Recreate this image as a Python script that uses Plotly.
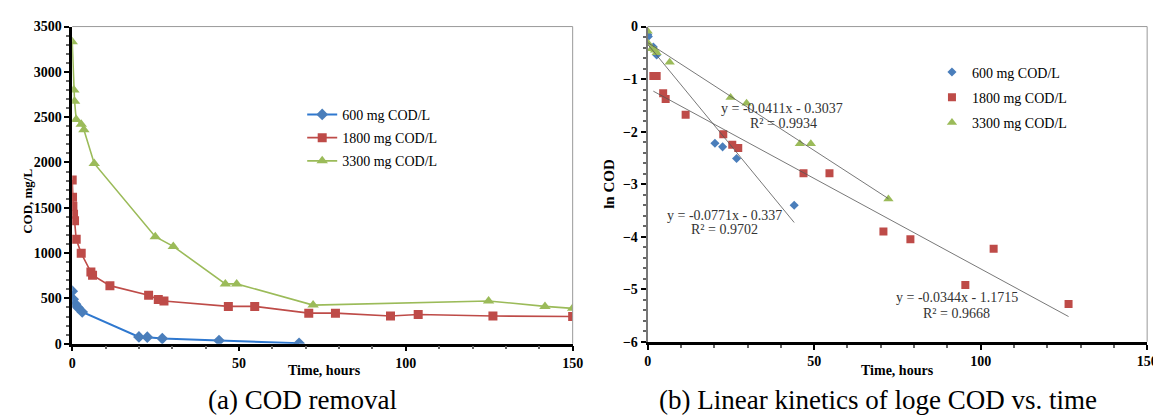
import plotly.graph_objects as go

# ---------------- data: (a) COD removal ----------------
t600 = [0, 0.3, 1, 1.7, 3, 20, 22.5, 27, 44, 68]
c600 = [580, 490, 435, 400, 350, 75, 72, 57, 35, 5]

t1800 = [0, 0.1, 0.2, 0.4, 0.7, 1.2, 2.7, 5.6, 6.1, 11.3, 22.9, 25.8, 27.5, 46.8, 54.7, 70.9, 78.9, 95.4, 103.7, 126.1, 150]
c1800 = [1808, 1617, 1518, 1429, 1358, 1152, 997, 790, 755, 641, 535, 489, 471, 412, 412, 337, 337, 305, 322, 305, 300]

t3300 = [0, 0.5, 0.7, 1.2, 2.7, 3.5, 6.6, 24.9, 30.3, 45.9, 49.3, 72.2, 124.8, 141.7, 150]
c3300 = [3333, 2801, 2677, 2475, 2422, 2362, 1989, 1181, 1074, 660, 660, 426, 472, 412, 390]

# ---------------- data: (b) ln COD vs time ----------------
lt600 = [0, 0.2, 1.7, 2.7, 20.2, 22.5, 26.7, 44]
ln600 = [-0.15, -0.19, -0.39, -0.54, -2.22, -2.29, -2.51, -3.40]

lt1800 = [1.7, 2.7, 4.65, 5.4, 11.4, 22.7, 25.4, 27.2, 46.8, 54.6, 70.8, 78.9, 95.4, 103.9, 126.4]
ln1800 = [-0.94, -0.94, -1.27, -1.38, -1.68, -2.05, -2.25, -2.31, -2.79, -2.79, -3.90, -4.05, -4.92, -4.23, -5.28]

lt3300 = [0, 0.2, 1.2, 2.2, 2.7, 6.6, 24.9, 29.7, 45.7, 49, 72.3]
ln3300 = [-0.09, -0.32, -0.42, -0.45, -0.50, -0.68, -1.35, -1.46, -2.23, -2.23, -3.28]

# linear fits (slope, intercept, x range)
fit600 = (-0.0771, -0.337, 0, 44)
fit1800 = (-0.0344, -1.1715, 1.7, 126.4)
fit3300 = (-0.0411, -0.3037, 0, 72.3)

labels = ["600 mg COD/L", "1800 mg COD/L", "3300 mg COD/L"]
xticks = [0, 50, 100, 150]

BLUE_L = "#2F78CF"
BLUE_M = "#4A7EBB"
RED = "#BE4B48"
GREEN = "#9BBB59"
SERIF = "Liberation Serif"

fig = go.Figure()

# ---- left panel ----
specs = [(t600, c600, BLUE_L, BLUE_M, "diamond", 9), (t1800, c1800, RED, RED, "square", 9),
         (t3300, c3300, GREEN, GREEN, "triangle-up", 10)]
for i, ((x, y, lc, mc, sym, sz), name) in enumerate(zip(specs, labels)):
    fig.add_trace(go.Scatter(x=x, y=y, mode="lines+markers", name=name,
                             line=dict(color=lc, width=2 if lc == BLUE_L else 1.6),
                             marker=dict(symbol=sym, size=sz, color=mc),
                             legendgroup="a%d" % i,
                             xaxis="x", yaxis="y", legend="legend"))

# ---- right panel ----
rspecs = [(lt600, ln600, BLUE_M, "diamond", 7), (lt1800, ln1800, RED, "square", 8),
          (lt3300, ln3300, GREEN, "triangle-up", 9)]
for i, ((x, y, mc, sym, sz), name) in enumerate(zip(rspecs, labels)):
    fig.add_trace(go.Scatter(x=x, y=y, mode="markers", name=name,
                             marker=dict(symbol=sym, size=sz, color=mc),
                             legendgroup="b%d" % i,
                             xaxis="x2", yaxis="y2", legend="legend2"))

for m, b, x0, x1 in (fit600, fit1800, fit3300):
    fig.add_trace(go.Scatter(x=[x0, x1], y=[m * x0 + b, m * x1 + b], mode="lines",
                             line=dict(color="#555555", width=0.8), showlegend=False,
                             hoverinfo="skip", xaxis="x2", yaxis="y2"))

tickfont = dict(family=SERIF, size=14, color="black", weight="bold")
common_x = dict(range=[0, 150], tickvals=xticks, ticks="outside", ticklen=5, tickwidth=1.5,
                tickcolor="black", showline=True, linecolor="black", linewidth=2.5,
                showgrid=False, zeroline=False, tickfont=tickfont, mirror=False,
                minor=dict(dtick=10, ticks="outside", ticklen=3, tickcolor="#666666"))

fig.update_layout(
    width=1161, height=416, margin=dict(l=0, r=0, t=0, b=0),
    paper_bgcolor="white", plot_bgcolor="white",
    font=dict(family=SERIF, color="black"),
    xaxis=dict(domain=[61 / 1161, 568 / 1161], anchor="y", **common_x),
    yaxis=dict(domain=[1 - 341 / 416, 1 - 12 / 416], anchor="x", range=[0, 3500], dtick=500,
               ticks="outside", ticklen=5, tickwidth=1.5, tickcolor="black",
               showline=True, linecolor="black", linewidth=2.5, showgrid=False, zeroline=False,
               tickfont=tickfont, minor=dict(dtick=100, ticks="outside", ticklen=3, tickcolor="#666666")),
    xaxis2=dict(domain=[644 / 1161, 1150 / 1161], anchor="y2", **common_x),
    yaxis2=dict(domain=[1 - 339 / 416, 1 - 12 / 416], anchor="x2", range=[-6, 0], dtick=1,
                ticks="outside", ticklen=5, tickwidth=1.5, tickcolor="black",
                showline=True, linecolor="#777777", linewidth=2, showgrid=False, zeroline=False,
                tickfont=tickfont, minor=dict(dtick=0.2, ticks="outside", ticklen=3, tickcolor="#666666")),
    legend=dict(x=294 / 1161, y=1 - 87 / 416, xanchor="left", yanchor="top",
                bgcolor="rgba(0,0,0,0)", font=dict(family=SERIF, size=14), itemwidth=30,
                traceorder="grouped", tracegroupgap=2),
    legend2=dict(x=932 / 1161, y=1 - 43 / 416, xanchor="left", yanchor="top",
                 bgcolor="rgba(0,0,0,0)", font=dict(family=SERIF, size=14), itemwidth=30,
                 traceorder="grouped", tracegroupgap=4),
    showlegend=True,
)

# plot frame (gray top/right borders)
for xr, yr in (("x", "y"), ("x2", "y2")):
    fig.add_shape(type="line", xref=xr + " domain", yref=yr + " domain", x0=0, x1=1, y0=1, y1=1,
                  line=dict(color="#999999", width=1))
    fig.add_shape(type="line", xref=xr + " domain", yref=yr + " domain", x0=1, x1=1, y0=0, y1=1,
                  line=dict(color="#999999", width=1))

ann = []
# axis titles
ann.append(dict(text="<b>COD, mg/L</b>", x=15 / 1161, y=1 - 193 / 416, textangle=-90,
                font=dict(size=13)))
ann.append(dict(text="<b>ln COD</b>", x=605 / 1161, y=1 - 175 / 416, textangle=-90,
                font=dict(size=15)))
ann.append(dict(text="<b>Time, hours</b>", x=317 / 1161, y=1 - 369 / 416, font=dict(size=14)))
ann.append(dict(text="<b>Time, hours</b>", x=897 / 1161, y=1 - 369 / 416, font=dict(size=14)))
# captions
ann.append(dict(text="(a) COD removal", x=294 / 1161, y=1 - 399 / 416, font=dict(size=27)))
ann.append(dict(text="(b) Linear kinetics of loge COD vs. time", x=877 / 1161, y=1 - 399 / 416,
                font=dict(size=27)))
# fit equations
eqs = [("y = -0.0411x - 0.3037", 780, 97), ("R² = 0.9934", 782, 113),
       ("y = -0.0771x - 0.337", 722, 208), ("R² = 0.9702", 722, 223),
       ("y = -0.0344x - 1.1715", 957, 293), ("R² = 0.9668", 957, 310)]
for txt, px, py in eqs:
    ann.append(dict(text=txt, x=px / 1161, y=1 - py / 416, font=dict(size=14, color="#333333")))

for a in ann:
    a.update(xref="paper", yref="paper", showarrow=False, xanchor="center", yanchor="middle")
    a["font"]["family"] = SERIF
    a["font"].setdefault("color", "black")
fig.update_layout(annotations=ann)

fig.write_html("out.html")
